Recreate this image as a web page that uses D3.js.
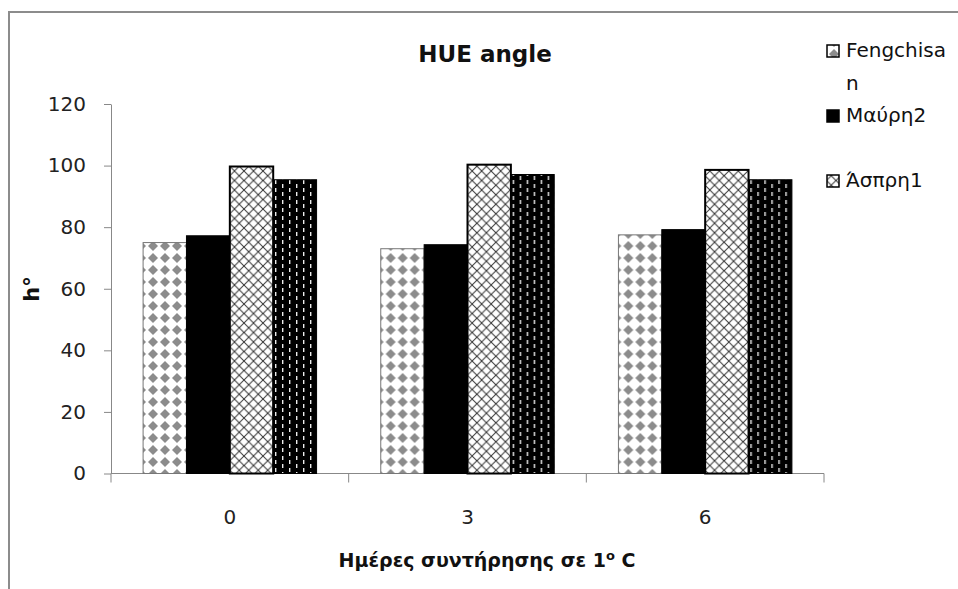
<!DOCTYPE html>
<html>
<head>
<meta charset="utf-8">
<script src="https://cdn.jsdelivr.net/npm/d3@7/dist/d3.min.js"></script>
<style>
  body { margin: 0; background: #fff; }
  text { font-family: "DejaVu Sans", sans-serif; }
</style>
</head>
<body>
<div id="chart"></div>
<script>
//set variables
var categories = ["0", "3", "6"];
var seriesNames = ["Fengchisan", "Μαύρη2", "Άσπρη1", "Σειρά4"];
var fengchisan = [75.0, 73.0, 77.5];
var mavri2 = [77.2, 74.3, 79.2];
var aspri1 = [99.7, 100.3, 98.6];
var series4 = [95.4, 97.1, 95.4];
var yTicks = [0, 20, 40, 60, 80, 100, 120];
var allSeries = [fengchisan, mavri2, aspri1, series4];

var width = 958, height = 589;

//set up SVG
var svg = d3.select("#chart").append("svg")
    .attr("width", width)
    .attr("height", height);

var defs = svg.append("defs");

// gray diamonds on white
var p1 = defs.append("pattern").attr("id", "pat0")
    .attr("patternUnits", "userSpaceOnUse").attr("width", 12).attr("height", 12);
p1.append("rect").attr("width", 12).attr("height", 12).attr("fill", "#fff");
p1.append("path").attr("d", "M6,1 L11,6 L6,11 L1,6 Z").attr("fill", "#8c8c8c");

// solid black
var p2 = defs.append("pattern").attr("id", "pat1")
    .attr("patternUnits", "userSpaceOnUse").attr("width", 8).attr("height", 8);
p2.append("rect").attr("width", 8).attr("height", 8).attr("fill", "#000");

// crosshatch
var p3 = defs.append("pattern").attr("id", "pat2")
    .attr("patternUnits", "userSpaceOnUse").attr("width", 9.5).attr("height", 9.5);
p3.append("rect").attr("width", 9.5).attr("height", 9.5).attr("fill", "#fff");
p3.append("path").attr("d", "M0,0 L9.5,9.5 M9.5,0 L0,9.5")
    .attr("stroke", "#333").attr("stroke-width", 1);

// black with white dashes
var p4 = defs.append("pattern").attr("id", "pat3")
    .attr("patternUnits", "userSpaceOnUse").attr("width", 14).attr("height", 8);
p4.append("rect").attr("width", 14).attr("height", 8).attr("fill", "#000");
p4.append("rect").attr("x", 3).attr("y", 0).attr("width", 1.4).attr("height", 4).attr("fill", "#ececec");
p4.append("rect").attr("x", 10).attr("y", 4).attr("width", 1.4).attr("height", 4).attr("fill", "#ececec");

var strokes = ["#777", "#000", "#000", "#000"];
var strokeWidths = [1, 1, 2, 1];

//outer frame (right and bottom edges fall outside the picture)
svg.append("rect")
    .attr("x", 9).attr("y", 12)
    .attr("width", 1000).attr("height", 700)
    .attr("fill", "none")
    .attr("stroke", "#8c8c8c")
    .attr("stroke-width", 2);

//scales
var y = d3.scaleLinear().domain([0, 120]).range([473.5, 104]);
var x = d3.scaleBand().domain(categories).range([111, 824]).padding(0);
var xInner = d3.scaleBand().domain(d3.range(seriesNames.length))
    .range([0, x.bandwidth()]).paddingInner(0).paddingOuter(0.74);

//y axis
var yAxis = svg.append("g")
    .attr("transform", "translate(111,0)")
    .call(d3.axisLeft(y).tickValues(yTicks).tickSize(7).tickPadding(18).tickSizeOuter(0));
yAxis.select(".domain").attr("stroke", "#888");
yAxis.selectAll(".tick line").attr("stroke", "#888");
yAxis.selectAll(".tick text")
    .attr("fill", "#222")
    .style("font-size", "20px")
    .style("font-family", "'DejaVu Sans', sans-serif");

//x axis
var xAxis = svg.append("g")
    .attr("transform", "translate(0," + y(0) + ")")
    .call(d3.axisBottom(x).tickSize(0).tickPadding(36));
xAxis.select(".domain").remove();
xAxis.selectAll(".tick text")
    .attr("fill", "#222")
    .style("font-size", "20px")
    .style("font-family", "'DejaVu Sans', sans-serif");

var bounds = [x(categories[0])].concat(categories.map(function(c) { return x(c) + x.bandwidth(); }));
svg.append("line")
    .attr("x1", 111).attr("x2", 824)
    .attr("y1", y(0)).attr("y2", y(0))
    .attr("stroke", "#888");
svg.selectAll(".xtick").data(bounds).enter().append("line")
    .attr("class", "xtick")
    .attr("x1", function(d) { return d; }).attr("x2", function(d) { return d; })
    .attr("y1", y(0)).attr("y2", y(0) + 9)
    .attr("stroke", "#888");

//bars
var groups = svg.selectAll(".grp").data(categories).enter().append("g")
    .attr("class", "grp")
    .attr("transform", function(d) { return "translate(" + x(d) + ",0)"; });

groups.selectAll("rect")
    .data(function(d, i) {
      return allSeries.map(function(s, k) { return { k: k, v: s[i] }; });
    })
    .enter().append("rect")
    .attr("x", function(d) { return xInner(d.k); })
    .attr("width", xInner.bandwidth())
    .attr("y", function(d) { return y(d.v); })
    .attr("height", function(d) { return y(0) - y(d.v); })
    .attr("fill", function(d) { return "url(#pat" + d.k + ")"; })
    .attr("stroke", function(d) { return strokes[d.k]; })
    .attr("stroke-width", function(d) { return strokeWidths[d.k]; });

//title
svg.append("text")
    .attr("x", 485).attr("y", 62)
    .attr("text-anchor", "middle")
    .style("font-size", "23px")
    .style("font-weight", "bold")
    .attr("fill", "#111")
    .text("HUE angle");

//y title
svg.append("text")
    .attr("transform", "translate(39,289) rotate(-90)")
    .attr("text-anchor", "middle")
    .style("font-size", "21px")
    .style("font-weight", "bold")
    .attr("fill", "#111")
    .text("h°");

//x title
var xt = svg.append("text")
    .attr("x", 487).attr("y", 567)
    .attr("text-anchor", "middle")
    .style("font-size", "19px")
    .style("font-weight", "bold")
    .attr("fill", "#111");
xt.append("tspan").text("Ημέρες συντήρησης σε 1");
xt.append("tspan").attr("dy", -7).style("font-size", "13px").text("o");
xt.append("tspan").attr("dy", 7).text(" C");

//legend (only the first three series are shown, wrapped like the original)
var legendRows = [
  { k: 0, lines: ["Fengchisa", "n"], y: 57 },
  { k: 1, lines: ["Μαύρη2"], y: 122 },
  { k: 2, lines: ["Άσπρη1"], y: 187 }
];
var leg = svg.selectAll(".leg").data(legendRows).enter().append("g").attr("class", "leg");
leg.append("rect")
    .attr("x", 827).attr("y", function(d) { return d.y - 12; })
    .attr("width", 12).attr("height", 12)
    .attr("fill", function(d) { return "url(#pat" + d.k + ")"; })
    .attr("stroke", "#000")
    .attr("stroke-width", 1.5);
leg.append("text")
    .attr("x", 846).attr("y", function(d) { return d.y; })
    .style("font-size", "20px")
    .attr("fill", "#111")
    .selectAll("tspan").data(function(d) { return d.lines; }).enter().append("tspan")
    .attr("x", 846)
    .attr("dy", function(d, i) { return i === 0 ? 0 : 33; })
    .text(function(d) { return d; });
</script>
</body>
</html>
